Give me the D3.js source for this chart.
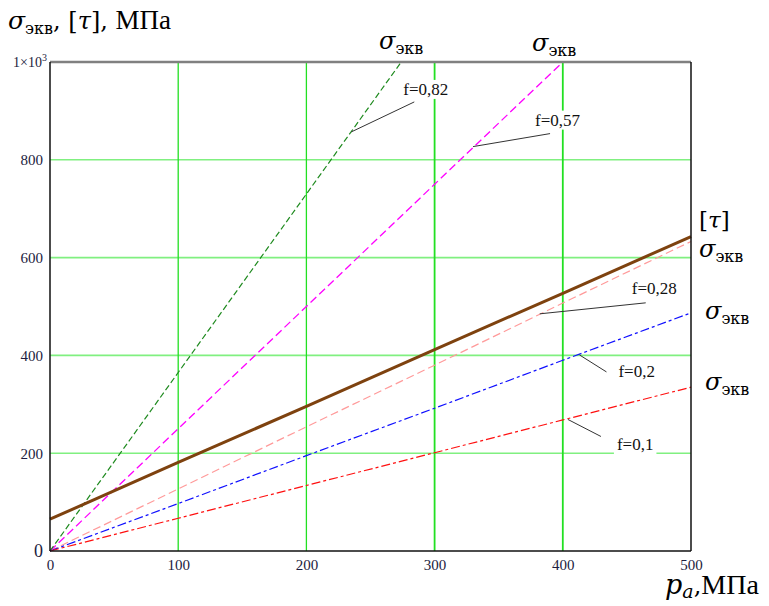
<!DOCTYPE html>
<html>
<head>
<meta charset="utf-8">
<script src="https://cdn.jsdelivr.net/npm/d3@7"></script>
<style>
  body { margin: 0; background: #fff; }
  svg { display: block; }
</style>
</head>
<body>
<svg id="chart" width="769" height="606"></svg>
<script>
// pressure p_a, MPa
let pVals = [0, 100, 200, 300, 400, 500];
// allowable stress [tau]
let tauVals = [65, 181, 296, 412, 527, 643];
// equivalent stress for each friction coefficient
let f01 = [0, 67, 134, 201, 268, 335];
let f02 = [0, 97, 195, 292, 390, 487];
let f028 = [0, 127, 254, 380, 507, 633];
let pF057 = [0, 100, 200, 300, 400];
let f057 = [0, 250, 500, 750, 1000];
let pF082 = [0, 100, 200, 274];
let f082 = [0, 365, 730, 1000];

let xTicks = [0, 100, 200, 300, 400, 500];
let yTicks = [0, 200, 400, 600, 800, 1000];

// leader labels: text and the point on the curve they point to
let notes = [
  { text: "f=0,82", p: 235, s: 857 },
  { text: "f=0,57", p: 330, s: 827 },
  { text: "f=0,28", p: 382, s: 485 },
  { text: "f=0,2", p: 413, s: 401 },
  { text: "f=0,1", p: 404, s: 269 }
];

const SERIF = "'Liberation Serif', 'Times New Roman', serif";
const MATH = "'DejaVu Serif', serif";

let svg = d3.select("#chart");
let mLeft = 50, mRight = 691, mTop = 62, mBottom = 551;

let x = d3.scaleLinear().domain([0, 500]).range([mLeft, mRight]);
let y = d3.scaleLinear().domain([0, 1000]).range([mBottom, mTop]);

// grid
svg.append("g").selectAll("line")
  .data(yTicks.filter(d => d > 0 && d < 1000))
  .enter().append("line")
  .attr("x1", mLeft).attr("x2", mRight)
  .attr("y1", d => y(d)).attr("y2", d => y(d))
  .attr("stroke", "#80f080").attr("stroke-width", 1.6);

svg.append("g").selectAll("line")
  .data(xTicks.filter(d => d > 0 && d < 500))
  .enter().append("line")
  .attr("x1", d => x(d)).attr("x2", d => x(d))
  .attr("y1", mTop).attr("y2", mBottom)
  .attr("stroke", "#22e022").attr("stroke-width", (d, i) => i >= 2 ? 1.8 : 1.3);

// curves
let series = [
  { p: pVals, v: f028, color: "#ff9a9a", dash: "8,4", w: 1.2 },
  { p: pVals, v: f02, color: "#1010ff", dash: "9,3,3,3", w: 1.2 },
  { p: pVals, v: f01, color: "#ff1010", dash: "9,3,3,3", w: 1.2 },
  { p: pF057, v: f057, color: "#ff00ff", dash: "8,4", w: 1.3 },
  { p: pF082, v: f082, color: "#1e8a1e", dash: "6,3", w: 1.2 },
  { p: pVals, v: tauVals, color: "#7e420f", dash: null, w: 3 }
];

let line = d3.line().x(d => x(d[0])).y(d => y(d[1]));

svg.append("g").selectAll("path")
  .data(series)
  .enter().append("path")
  .attr("d", d => line(d.p.map((p, i) => [p, d.v[i]])))
  .attr("fill", "none")
  .attr("stroke", d => d.color)
  .attr("stroke-width", d => d.w)
  .attr("stroke-dasharray", d => d.dash);

// annotations: label offset relative to the curve point
let offsets = [
  { tx: 52, ty: -37, lx: 63, ly: -30 },
  { tx: 62, ty: -21, lx: 77, ly: -13 },
  { tx: 92, ty: -20, lx: 106, ly: -11 },
  { tx: 39, ty: 22, lx: 27, ly: 17 },
  { tx: 49, ty: 31, lx: 33, ly: 17 }
];

let ann = svg.append("g");
notes.forEach((n, i) => {
  let o = offsets[i];
  let px = x(n.p), py = y(n.s);
  let t = ann.append("text")
    .attr("x", px + o.tx).attr("y", py + o.ty)
    .attr("font-family", SERIF).attr("font-size", 17)
    .attr("fill", "#111")
    .text(n.text);
  let bb = t.node().getBBox();
  ann.insert("rect", "text")
    .attr("x", bb.x - 3).attr("y", bb.y).attr("width", bb.width + 6).attr("height", bb.height)
    .attr("fill", "#fff");
  ann.append("line")
    .attr("x1", px + o.lx).attr("y1", py + o.ly)
    .attr("x2", px).attr("y2", py)
    .attr("stroke", "#333").attr("stroke-width", 1);
});

// frame
svg.append("line").attr("x1", mLeft).attr("x2", mRight).attr("y1", mTop).attr("y2", mTop)
  .attr("stroke", "#808080").attr("stroke-width", 2.5);
svg.append("line").attr("x1", mRight).attr("x2", mRight).attr("y1", mTop).attr("y2", mBottom)
  .attr("stroke", "#111").attr("stroke-width", 1.5);
svg.append("line").attr("x1", mLeft).attr("x2", mRight).attr("y1", mBottom).attr("y2", mBottom)
  .attr("stroke", "#111").attr("stroke-width", 1.5);
svg.append("line").attr("x1", mLeft).attr("x2", mLeft).attr("y1", mTop).attr("y2", mBottom)
  .attr("stroke", "#111").attr("stroke-width", 1.5);

// axes (labels only)
let yAxis = svg.append("g")
  .attr("transform", `translate(${mLeft - 4},0)`)
  .call(d3.axisLeft(y).tickValues(yTicks).tickSize(0).tickFormat(d => d === 1000 ? "" : d));
let xAxis = svg.append("g")
  .attr("transform", `translate(0,${mBottom + 5})`)
  .call(d3.axisBottom(x).tickValues(xTicks).tickSize(0));
[yAxis, xAxis].forEach(a => {
  a.attr("font-family", SERIF);
  a.select(".domain").remove();
  a.selectAll("text").attr("font-family", SERIF).attr("font-size", 15).attr("fill", "#1c1c40");
});
yAxis.selectAll("text").filter(d => d === 0).attr("font-size", 18).attr("dy", "0.3em");

let big = svg.append("text")
  .attr("x", mLeft - 3).attr("y", mTop + 5).attr("text-anchor", "end")
  .attr("font-family", SERIF).attr("font-size", 14).attr("fill", "#1c1c40");
big.append("tspan").text("1×10");
big.append("tspan").attr("font-size", 10).attr("dy", -6).text("3");

// math labels
function sigma(xp, yp) {
  let t = svg.append("text").attr("x", xp).attr("y", yp)
    .attr("font-family", MATH).attr("font-size", 24).attr("fill", "#000");
  t.append("tspan").attr("font-style", "italic").text("σ");
  t.append("tspan").attr("font-size", 16).attr("dy", 5).text("экв");
  return t;
}
sigma(379, 49);
sigma(532, 51);
sigma(699, 257);
sigma(705, 319);
sigma(705, 390);

svg.append("text").attr("x", 699).attr("y", 228)
  .attr("font-family", MATH).attr("font-size", 23)
  .html('[<tspan font-style="italic">τ</tspan>]');

// y title
let yt = svg.append("text").attr("x", 8).attr("y", 29).attr("fill", "#000");
yt.append("tspan").attr("font-family", MATH).attr("font-size", 25).attr("font-style", "italic").text("σ");
yt.append("tspan").attr("font-family", MATH).attr("font-size", 16).attr("dy", 5).text("экв");
yt.append("tspan").attr("font-family", MATH).attr("font-size", 24).attr("dy", -5).text(", [");
yt.append("tspan").attr("font-family", MATH).attr("font-size", 24).attr("font-style", "italic").text("τ");
yt.append("tspan").attr("font-family", MATH).attr("font-size", 24).text("], ");
yt.append("tspan").attr("font-family", SERIF).attr("font-size", 27).text("МПа");

// x title
let xt = svg.append("text").attr("x", 665).attr("y", 594).attr("fill", "#000");
xt.append("tspan").attr("font-family", MATH).attr("font-size", 27).attr("font-style", "italic").text("p");
xt.append("tspan").attr("font-family", MATH).attr("font-size", 19).attr("font-style", "italic").attr("dy", 4).text("a");
xt.append("tspan").attr("font-family", MATH).attr("font-size", 24).attr("dy", -4).text(",");
xt.append("tspan").attr("font-family", SERIF).attr("font-size", 28).text("МПа");
</script>
</body>
</html>
